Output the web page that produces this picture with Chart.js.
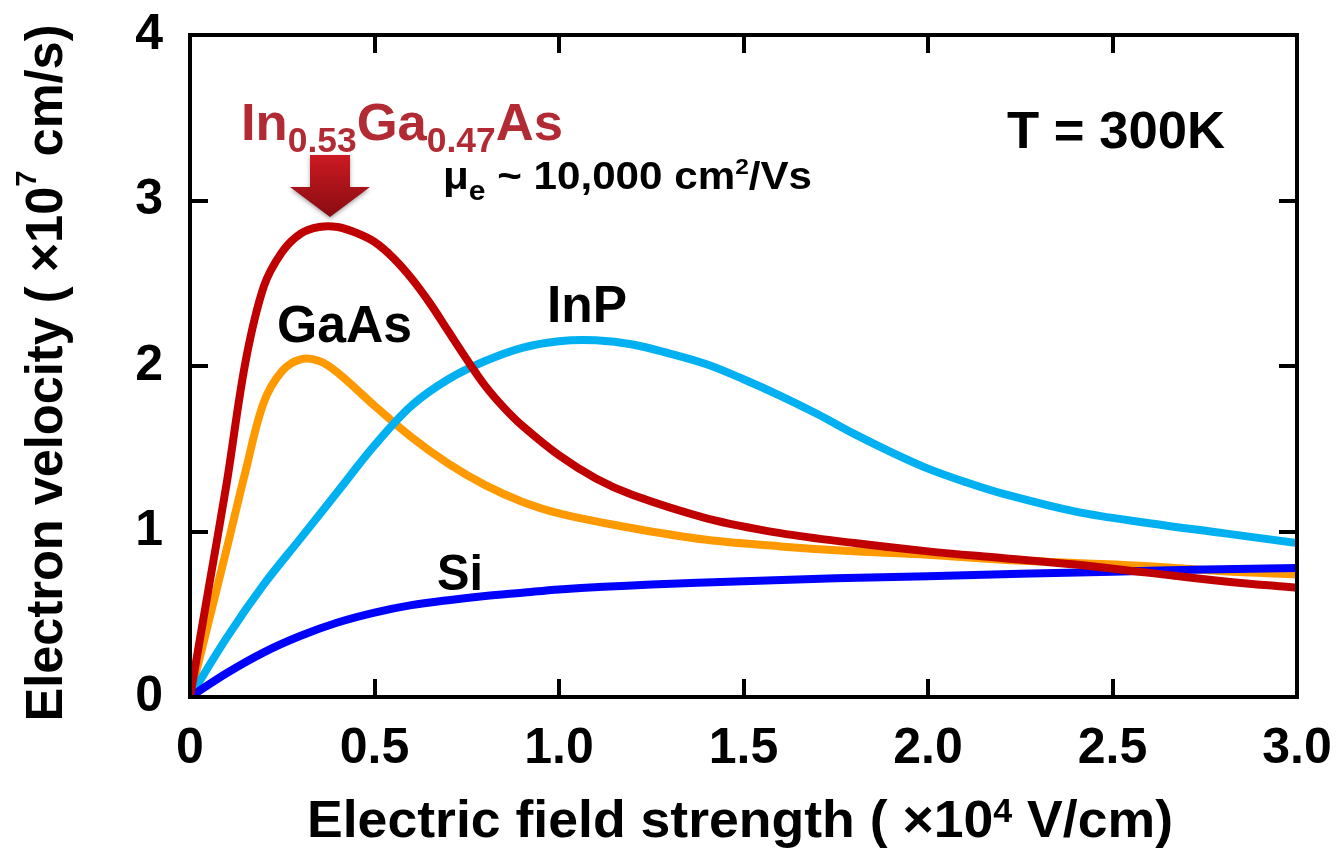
<!DOCTYPE html>
<html>
<head>
<meta charset="utf-8">
<script src="https://cdn.jsdelivr.net/npm/chart.js@4.4.1/dist/chart.umd.min.js"></script>
<style>
  html, body { margin: 0; padding: 0; background: #ffffff; }
  #wrap { width: 1336px; height: 848px; }
</style>
</head>
<body>
<div id="wrap"><canvas id="c" width="1336" height="848"></canvas></div>
<script>
// ---------------- data ----------------
const xTickValues = [0, 0.5, 1.0, 1.5, 2.0, 2.5, 3.0];
const xTickLabels = ['0', '0.5', '1.0', '1.5', '2.0', '2.5', '3.0'];
const yTickValues = [0, 1, 2, 3, 4];
const yTickLabels = ['0', '1', '2', '3', '4'];

const seriesNames = ['In0.53Ga0.47As', 'Si', 'InP', 'GaAs'];

const inGaAsField    = [0, 0.05, 0.1, 0.15, 0.2, 0.25, 0.3, 0.35, 0.4, 0.45, 0.5, 0.55, 0.6, 0.65, 0.7, 0.75, 0.8, 0.85, 0.9, 1.0, 1.1, 1.2, 1.4, 1.6, 1.8, 2.0, 2.2, 2.4, 2.6, 2.8, 3.0];
const inGaAsVelocity = [0, 0.65, 1.30, 2.02, 2.48, 2.69, 2.80, 2.84, 2.84, 2.805, 2.75, 2.655, 2.53, 2.38, 2.21, 2.04, 1.88, 1.75, 1.64, 1.46, 1.32, 1.22, 1.08, 0.99, 0.93, 0.88, 0.84, 0.80, 0.75, 0.70, 0.66];

const gaAsField    = [0, 0.05, 0.1, 0.15, 0.2, 0.25, 0.3, 0.35, 0.4, 0.5, 0.6, 0.7, 0.8, 0.9, 1.0, 1.2, 1.4, 1.6, 1.8, 2.0, 2.2, 2.4, 2.6, 2.8, 3.0];
const gaAsVelocity = [0, 0.45, 0.90, 1.36, 1.78, 1.97, 2.04, 2.03, 1.96, 1.76, 1.57, 1.41, 1.28, 1.18, 1.11, 1.02, 0.95, 0.91, 0.88, 0.86, 0.83, 0.81, 0.79, 0.76, 0.74];

const inPField    = [0, 0.1, 0.2, 0.3, 0.4, 0.5, 0.6, 0.7, 0.8, 0.9, 1.0, 1.1, 1.2, 1.3, 1.4, 1.5, 1.6, 1.7, 1.8, 1.9, 2.0, 2.1, 2.2, 2.4, 2.6, 2.8, 3.0];
const inPVelocity = [0, 0.36, 0.68, 0.96, 1.24, 1.52, 1.76, 1.92, 2.03, 2.11, 2.15, 2.155, 2.13, 2.075, 2.01, 1.92, 1.82, 1.71, 1.59, 1.48, 1.38, 1.30, 1.23, 1.12, 1.05, 0.99, 0.93];

const siField    = [0, 0.1, 0.2, 0.3, 0.4, 0.5, 0.6, 0.7, 0.8, 0.9, 1.0, 1.25, 1.5, 1.75, 2.0, 2.25, 2.5, 2.75, 3.0];
const siVelocity = [0, 0.145, 0.27, 0.37, 0.45, 0.51, 0.555, 0.585, 0.61, 0.63, 0.65, 0.68, 0.70, 0.717, 0.73, 0.745, 0.757, 0.77, 0.78];

// text
const xTitleParts = ['Electric field strength ( \u00D710', '4', ' V/cm)'];
const yTitleParts = ['Electron velocity ( \u00D710', '7', ' cm/s)'];
const inGaAsLabel = ['In', '0.53', 'Ga', '0.47', 'As'];
const mobilityLabel = ['\u03BC', 'e', ' ~ 10,000 cm', '2', '/Vs'];
const tempLabel = 'T = 300K';
const gaAsLabel = 'GaAs';
const inPLabel = 'InP';
const siLabel = 'Si';

// ---------------- helpers ----------------
const FAMILY = "'Liberation Sans', Arial, Helvetica, sans-serif";
function zip(xs, ys) { return xs.map((x, i) => ({ x: x, y: ys[i] })); }

// parts: [{t, s, dy}] ; draws with baseline at y
function drawRich(ctx, parts, x, y, opt) {
  ctx.save();
  let total = 0;
  parts.forEach(p => { ctx.font = 'bold ' + p.s + 'px ' + FAMILY; p.w = ctx.measureText(p.t).width; total += p.w; });
  const sx = opt.width ? opt.width / total : 1;
  let x0 = x;
  if (opt.align === 'center') x0 = x - (total * sx) / 2;
  ctx.translate(x0, y);
  ctx.scale(sx, 1);
  ctx.fillStyle = opt.color || '#000';
  ctx.textBaseline = 'alphabetic';
  ctx.textAlign = 'left';
  let cx = 0;
  parts.forEach(p => {
    ctx.font = 'bold ' + p.s + 'px ' + FAMILY;
    ctx.fillText(p.t, cx, p.dy || 0);
    cx += p.w;
  });
  ctx.restore();
}

const decorPlugin = {
  id: 'decor',
  afterDatasetsDraw(chart) {
    const ctx = chart.ctx;
    const a = chart.chartArea;
    const xs = chart.scales.x, ys = chart.scales.y;
    ctx.save();
    // frame
    ctx.strokeStyle = '#000';
    ctx.lineWidth = 4;
    ctx.lineJoin = 'miter';
    ctx.strokeRect(a.left, a.top, a.right - a.left, a.bottom - a.top);
    // inward ticks, mirrored
    const tl = 18;
    ctx.beginPath();
    xTickValues.forEach(v => {
      const px = Math.round(xs.getPixelForValue(v));
      if (px <= a.left + 2 || px >= a.right - 2) return;
      ctx.moveTo(px, a.bottom); ctx.lineTo(px, a.bottom - tl);
      ctx.moveTo(px, a.top); ctx.lineTo(px, a.top + tl);
    });
    yTickValues.forEach(v => {
      const py = Math.round(ys.getPixelForValue(v));
      if (py <= a.top + 2 || py >= a.bottom - 2) return;
      ctx.moveTo(a.left, py); ctx.lineTo(a.left + tl, py);
      ctx.moveTo(a.right, py); ctx.lineTo(a.right - tl, py);
    });
    ctx.lineWidth = 4;
    ctx.stroke();
    ctx.restore();

    // arrow
    ctx.save();
    const g = ctx.createLinearGradient(0, 155, 0, 217);
    g.addColorStop(0, '#CC1A22');
    g.addColorStop(1, '#880C12');
    ctx.fillStyle = g;
    ctx.shadowColor = 'rgba(0,0,0,0.35)';
    ctx.shadowBlur = 4;
    ctx.shadowOffsetY = 2;
    ctx.beginPath();
    ctx.moveTo(310, 155); ctx.lineTo(350, 155); ctx.lineTo(350, 187);
    ctx.lineTo(370, 187); ctx.lineTo(330, 217); ctx.lineTo(290, 187);
    ctx.lineTo(310, 187); ctx.closePath();
    ctx.fill();
    ctx.restore();

    // annotations
    drawRich(ctx, [
      { t: inGaAsLabel[0], s: 52 }, { t: inGaAsLabel[1], s: 35, dy: 12 },
      { t: inGaAsLabel[2], s: 52 }, { t: inGaAsLabel[3], s: 35, dy: 12 },
      { t: inGaAsLabel[4], s: 52 }
    ], 241, 140, { width: 322, color: '#B22A33' });

    drawRich(ctx, [
      { t: mobilityLabel[0], s: 38 }, { t: mobilityLabel[1], s: 27, dy: 11 },
      { t: mobilityLabel[2], s: 38 }, { t: mobilityLabel[3], s: 22, dy: -15 },
      { t: mobilityLabel[4], s: 38 }
    ], 443, 189, { width: 369 });

    drawRich(ctx, [{ t: tempLabel, s: 52 }], 1007, 148, { width: 218 });
    drawRich(ctx, [{ t: gaAsLabel, s: 51 }], 277, 342, { width: 135 });
    drawRich(ctx, [{ t: inPLabel, s: 52 }], 547, 322, { width: 80 });
    drawRich(ctx, [{ t: siLabel, s: 50 }], 437, 590, { width: 46 });

    // axis titles
    drawRich(ctx, [
      { t: xTitleParts[0], s: 52 }, { t: xTitleParts[1], s: 33, dy: -15 }, { t: xTitleParts[2], s: 52 }
    ], 740, 837, { width: 866, align: 'center' });

    ctx.save();
    ctx.translate(62, 373);
    ctx.rotate(-Math.PI / 2);
    drawRich(ctx, [
      { t: yTitleParts[0], s: 52 }, { t: yTitleParts[1], s: 30, dy: -26 }, { t: yTitleParts[2], s: 52 }
    ], 0, 0, { width: 697, align: 'center' });
    ctx.restore();
  }
};

const tickFont = { family: FAMILY, size: 50, weight: 'bold' };

new Chart(document.getElementById('c'), {
  type: 'line',
  data: {
    datasets: [
      { label: seriesNames[0], data: zip(inGaAsField, inGaAsVelocity), borderColor: '#C00000' },
      { label: seriesNames[1], data: zip(siField, siVelocity), borderColor: '#0000FF' },
      { label: seriesNames[2], data: zip(inPField, inPVelocity), borderColor: '#00B0F0' },
      { label: seriesNames[3], data: zip(gaAsField, gaAsVelocity), borderColor: '#FF9900' }
    ].map(d => Object.assign(d, {
      borderWidth: 8, pointRadius: 0, fill: false, tension: 0.35,
      borderCapStyle: 'butt', borderJoinStyle: 'round'
    }))
  },
  options: {
    responsive: false,
    animation: false,
    devicePixelRatio: 1,
    layout: { padding: { left: 0, right: 39, top: 35, bottom: 0 } },
    plugins: { legend: { display: false }, tooltip: { enabled: false } },
    scales: {
      x: {
        type: 'linear', min: 0, max: 3,
        afterFit: s => { s.height = 151; s.paddingLeft = 0; s.paddingRight = 0; },
        afterBuildTicks: s => { s.ticks = xTickValues.map(v => ({ value: v })); },
        grid: { display: true, drawOnChartArea: false, drawTicks: false, color: 'rgba(0,0,0,0)' },
        border: { display: false },
        ticks: {
          font: tickFont, color: '#000', padding: 22, maxRotation: 0, autoSkip: false,
          callback: v => xTickLabels[xTickValues.indexOf(Math.round(v * 2) / 2)]
        }
      },
      y: {
        type: 'linear', min: 0, max: 4,
        afterFit: s => { s.width = 190; s.paddingTop = 0; s.paddingBottom = 0; },
        afterBuildTicks: s => { s.ticks = yTickValues.map(v => ({ value: v })); },
        grid: { display: true, drawOnChartArea: false, drawTicks: false, color: 'rgba(0,0,0,0)' },
        border: { display: false },
        ticks: {
          font: tickFont, color: '#000', padding: 27, autoSkip: false,
          callback: v => yTickLabels[yTickValues.indexOf(Math.round(v))]
        }
      }
    }
  },
  plugins: [decorPlugin]
});
</script>
</body>
</html>
